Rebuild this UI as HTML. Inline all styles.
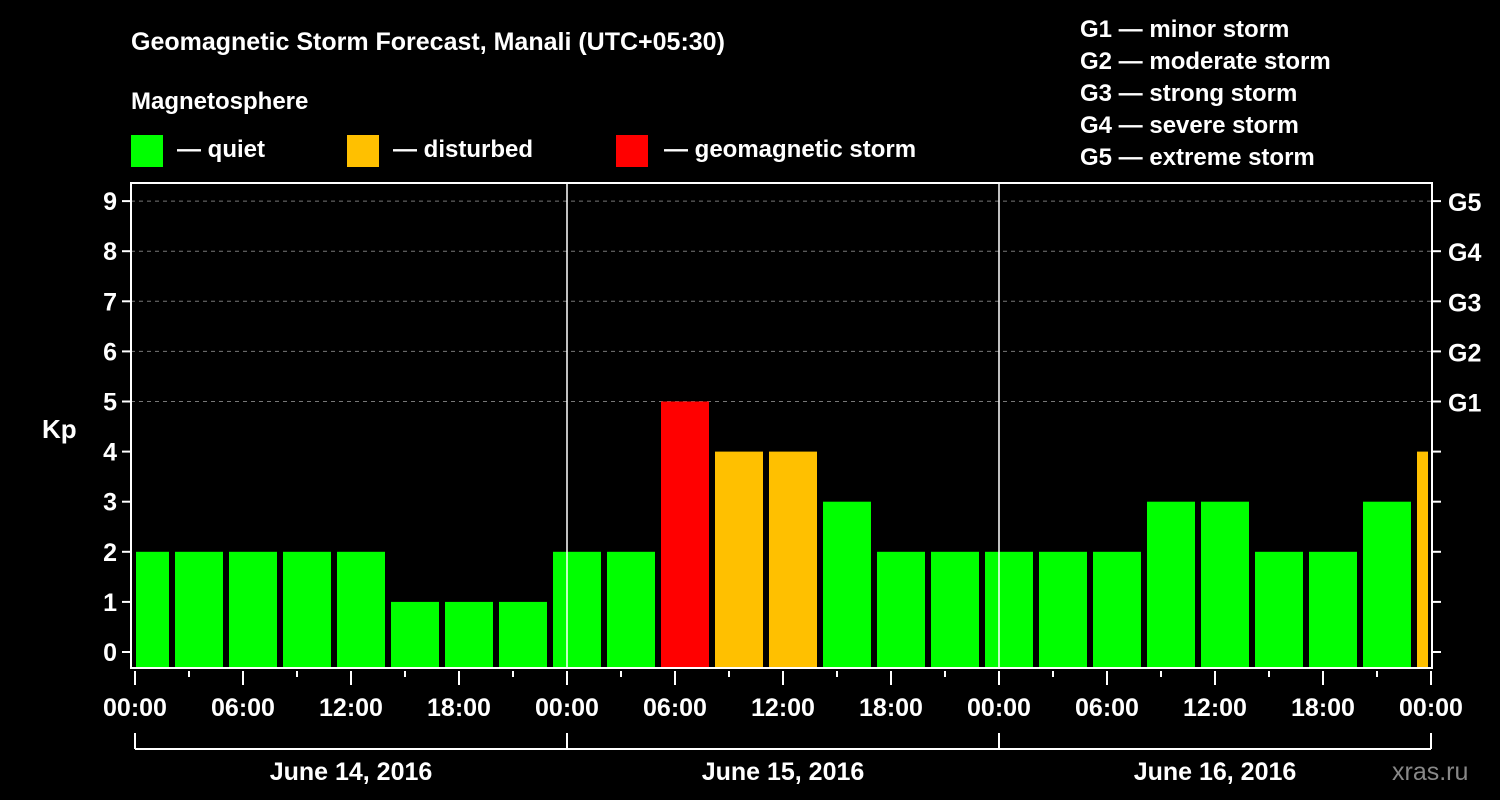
<!DOCTYPE html>
<html><head><meta charset="utf-8"><style>
body{margin:0;background:#000;width:1500px;height:800px;overflow:hidden}
svg{display:block;font-family:"Liberation Sans",Arial,sans-serif;font-weight:bold}
</style></head><body>
<svg id="c" width="1500" height="800">
<text x="131" y="50" fill="#fff" font-size="25">Geomagnetic Storm Forecast, Manali (UTC+05:30)</text>
<text x="131" y="109" fill="#fff" font-size="24">Magnetosphere</text>
<g><rect x="131" y="135" width="32" height="32" fill="#00ff00"/><text x="177" y="157" fill="#fff" font-size="24">— quiet</text></g>
<g><rect x="347" y="135" width="32" height="32" fill="#ffc000"/><text x="393" y="157" fill="#fff" font-size="24">— disturbed</text></g>
<g><rect x="616" y="135" width="32" height="32" fill="#ff0000"/><text x="664" y="157" fill="#fff" font-size="24">— geomagnetic storm</text></g>
<g fill="#fff" font-size="24">
<text x="1080" y="37">G1 — minor storm</text><text x="1080" y="69">G2 — moderate storm</text><text x="1080" y="101">G3 — strong storm</text><text x="1080" y="133">G4 — severe storm</text><text x="1080" y="165">G5 — extreme storm</text></g>
<text x="42" y="438" fill="#fff" font-size="26">Kp</text>
<text x="1392" y="780" fill="#888" font-size="25" font-weight="normal">xras.ru</text>
<g id="plot"></g>
</svg>
<script>
const kpValues=[2,2,2,2,2,1,1,1,2,2,5,4,4,3,2,2,2,2,2,3,3,2,2,3,4];
const binStartHours=-0.5;
const binHours=3;
const xTickLabels=["00:00","06:00","12:00","18:00","00:00","06:00","12:00","18:00","00:00","06:00","12:00","18:00","00:00"];
const dayLabels=["June 14, 2016","June 15, 2016","June 16, 2016"];
const gLabels=["G1","G2","G3","G4","G5"];
const yTicks=[0,1,2,3,4,5,6,7,8,9];

const NS="http://www.w3.org/2000/svg";
const g=document.getElementById('plot');
const L=131,R=1432,T=183,B=668,X0=135,PXH=18;
const x=h=>X0+h*PXH;
const y=v=>652-v*50.1;
function mk(t,a,txt){const e=document.createElementNS(NS,t);for(const k in a)e.setAttribute(k,a[k]);if(txt!==undefined)e.textContent=txt;g.appendChild(e);return e;}
// grid
yTicks.forEach(v=>{if(v>=5){const e=mk('line',{x1:L,x2:R,y1:y(v),y2:y(v),stroke:'#777','stroke-dasharray':'4,4','stroke-width':1});

}});
// bars
kpValues.forEach((v,i)=>{const s=binStartHours+i*binHours;let l=x(s)-5,r=l+48;l=Math.max(l,L+5);r=Math.min(r,R-4);
const c=v>=5?'#ff0000':v>=4?'#ffc000':'#00ff00';
const e=mk('rect',{x:l,y:y(v),width:r-l,height:B-y(v),fill:c});

});
// day separators
[1,2].forEach(d=>{const e=mk('line',{x1:x(d*24),x2:x(d*24),y1:T,y2:B,stroke:'#fff','stroke-width':1.5});

});
// frame
const f=mk('rect',{x:L,y:T,width:R-L,height:B-T,fill:'none',stroke:'#fff','stroke-width':2});


// y ticks
yTicks.forEach(v=>{mk('line',{x1:L-9,x2:L,y1:y(v),y2:y(v),stroke:'#fff','stroke-width':2});
mk('line',{x1:R,x2:R+9,y1:y(v),y2:y(v),stroke:'#fff','stroke-width':2});
const t=mk('text',{x:L-14,y:y(v)+9,fill:'#fff','font-size':25,'text-anchor':'end'},String(v));

});
gLabels.forEach((s,i)=>{const t=mk('text',{x:R+16,y:y(i+5)+10,fill:'#fff','font-size':25},s);

});
// x ticks
for(let h=0;h<=72;h+=3){const maj=h%6===0;mk('line',{x1:x(h),x2:x(h),y1:671,y2:maj?685:677,stroke:'#fff','stroke-width':2});}
xTickLabels.forEach((s,i)=>{const t=mk('text',{x:x(i*6),y:716,fill:'#fff','font-size':25,'text-anchor':'middle'},s);

});
// day bracket
mk('line',{x1:x(0),x2:x(72),y1:749,y2:749,stroke:'#fff','stroke-width':2});
for(let d=0;d<=3;d++)mk('line',{x1:x(d*24),x2:x(d*24),y1:733,y2:749,stroke:'#fff','stroke-width':2});
dayLabels.forEach((s,i)=>{const t=mk('text',{x:x(i*24+12),y:780,fill:'#fff','font-size':25,'text-anchor':'middle'},s);

});
</script>
</body></html>
